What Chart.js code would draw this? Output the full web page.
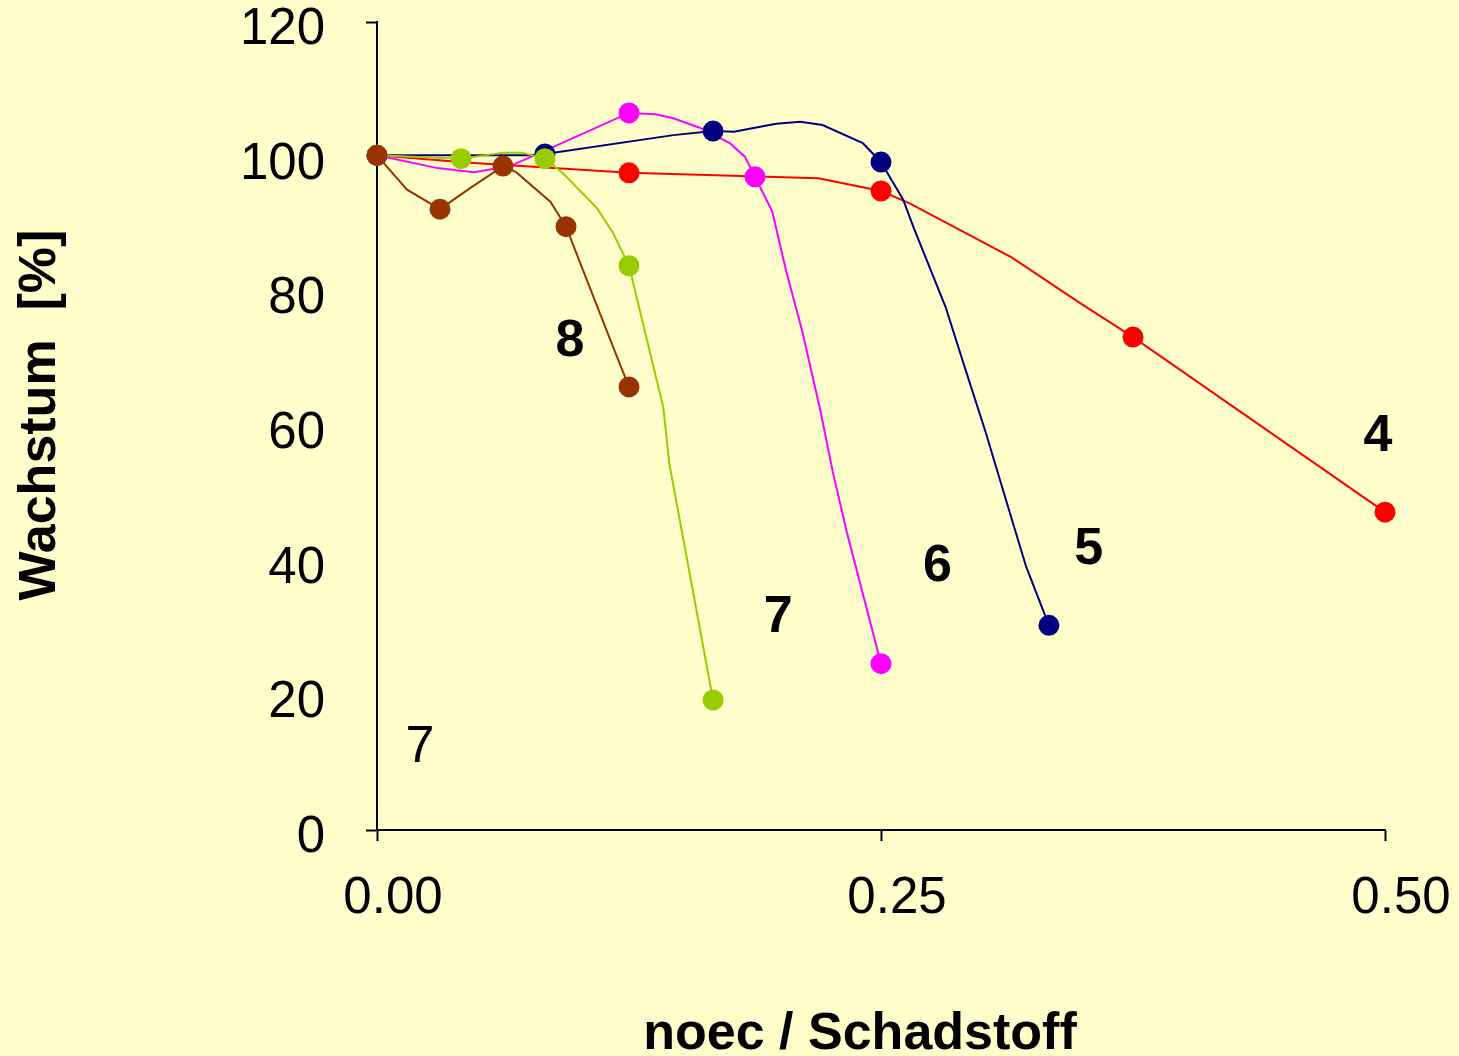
<!DOCTYPE html>
<html>
<head>
<meta charset="utf-8">
<script src="https://cdn.jsdelivr.net/npm/chart.js@4.4.1/dist/chart.umd.min.js"></script>
<style>
  body { margin: 0; background: #ffffcc; }
  canvas { display: block; }
</style>
</head>
<body>
<canvas id="growthChart" width="1459" height="1056"></canvas>
<script>
// noec / Schadstoff (x) against Wachstum in % (y), one curve per test series.
// "dots" holds the x values that carry a measured point marker.
const x4 = [0, 0.046, 0.125, 0.219, 0.25, 0.264, 0.315, 0.348, 0.375, 0.5];
const y4 = [100.2, 99.1, 97.6, 96.8, 94.9, 93.1, 85.0, 78.4, 73.2, 47.2];
const dots4 = [0, 0.125, 0.25, 0.375, 0.5];

const x5 = [0, 0.076, 0.0833, 0.147, 0.1667, 0.177, 0.198, 0.21, 0.221, 0.241, 0.25, 0.261, 0.266, 0.282, 0.292, 0.302, 0.312, 0.322, 0.3333];
const y5 = [100.2, 100.2, 100.4, 103.2, 103.8, 103.7, 104.9, 105.2, 104.7, 102.0, 99.2, 93.6, 89.6, 77.7, 68.3, 59.0, 49.0, 39.1, 30.4];
const dots5 = [0, 0.0833, 0.1667, 0.25, 0.3333];

const x6 = [0, 0.03, 0.048, 0.066, 0.082, 0.125, 0.138, 0.147, 0.16, 0.175, 0.1825, 0.1875, 0.196, 0.203, 0.211, 0.22, 0.226, 0.233, 0.25];
const y6 = [100.2, 98.3, 97.7, 98.6, 100.7, 106.5, 106.3, 105.7, 104.3, 102.0, 100.0, 97.0, 91.9, 83.0, 74.0, 62.2, 53.3, 44.3, 24.7];
const dots6 = [0, 0.125, 0.1875, 0.25];

const x7 = [0, 0.0417, 0.0625, 0.072, 0.0833, 0.092, 0.109, 0.117, 0.125, 0.142, 0.145, 0.1667];
const y7 = [100.2, 99.7, 100.6, 100.6, 99.7, 97.6, 92.4, 88.7, 83.8, 62.8, 54.4, 19.3];
const dots7 = [0, 0.0417, 0.0833, 0.125, 0.1667];

const x8 = [0, 0.0149, 0.03125, 0.046, 0.0625, 0.069, 0.086, 0.09375, 0.108, 0.119, 0.125];
const y8 = [100.2, 95.1, 92.2, 95.3, 98.6, 97.7, 93.3, 89.6, 78.7, 70.3, 65.8];
const dots8 = [0, 0.03125, 0.0625, 0.09375, 0.125];

const xTicks = [0, 0.25, 0.5];
const yTicks = [0, 20, 40, 60, 80, 100, 120];

// curve numbers written next to the lines (value coordinates)
const tags = [
  { text: "8", x: 0.0957, y: 72.5, bold: true },
  { text: "7", x: 0.199, y: 31.5, bold: true },
  { text: "6", x: 0.278, y: 39.1, bold: true },
  { text: "5", x: 0.353, y: 41.7, bold: true },
  { text: "4", x: 0.4965, y: 58.4, bold: true },
  { text: "7", x: 0.0213, y: 12.2, bold: false }
];

const FONT = '"Liberation Sans", Arial, sans-serif';

function series(xs, ys, dots, color) {
  return {
    data: xs.map((x, i) => ({ x: x, y: ys[i] })),
    borderColor: color,
    backgroundColor: color,
    borderWidth: 2,
    tension: 0,
    clip: false,
    pointBorderWidth: 0,
    pointHoverRadius: 0,
    pointRadius: ctx => (ctx.type === "data" && dots.includes(xs[ctx.dataIndex])) ? 10.5 : 0
  };
}

const labelPlugin = {
  id: "labelPlugin",
  afterDatasetsDraw(chart) {
    const ctx = chart.ctx;
    const xs = chart.scales.x;
    const ys = chart.scales.y;
    ctx.save();
    ctx.fillStyle = "#000";
    ctx.textAlign = "center";
    ctx.textBaseline = "middle";
    tags.forEach(t => {
      ctx.font = (t.bold ? "bold " : "") + "52px " + FONT;
      ctx.fillText(t.text, xs.getPixelForValue(t.x), ys.getPixelForValue(t.y));
    });

    ctx.font = "bold 52px " + FONT;
    ctx.textBaseline = "alphabetic";
    ctx.fillText("noec / Schadstoff", 860, 1049);

    ctx.translate(55, 415);
    ctx.rotate(-Math.PI / 2);
    ctx.fillText("Wachstum  [%]", 0, 0);
    ctx.restore();
  }
};

new Chart(document.getElementById("growthChart"), {
  type: "line",
  data: {
    datasets: [
      series(x8, y8, dots8, "#993300"),
      series(x7, y7, dots7, "#99cc00"),
      series(x5, y5, dots5, "#000080"),
      series(x6, y6, dots6, "#ff00ff"),
      series(x4, y4, dots4, "#ff0000")
    ]
  },
  options: {
    responsive: false,
    animation: false,
    layout: { padding: { left: 0, right: 74, top: 22, bottom: 0 } },
    plugins: { legend: { display: false }, tooltip: { enabled: false } },
    scales: {
      x: {
        type: "linear",
        min: 0,
        max: 0.5,
        border: { color: "#000", width: 2 },
        grid: { drawOnChartArea: false, tickLength: 11, tickColor: "#000", tickWidth: 2 },
        afterBuildTicks: scale => { scale.ticks = xTicks.map(v => ({ value: v })); },
        ticks: {
          color: "#000",
          font: { family: FONT, size: 51 },
          padding: 27,
          labelOffset: 16,
          maxRotation: 0,
          autoSkip: false,
          callback: v => Number(v).toFixed(2)
        },
        afterFit: scale => { scale.height = 226; scale.paddingLeft = 0; scale.paddingRight = 0; }
      },
      y: {
        min: 0,
        max: 120,
        border: { color: "#000", width: 2 },
        grid: {
          drawOnChartArea: false,
          tickLength: 11,
          tickWidth: 2,
          tickColor: ctx => (ctx.tick && (ctx.tick.value === 0 || ctx.tick.value === 120)) ? "#000" : "rgba(0,0,0,0)"
        },
        afterBuildTicks: scale => { scale.ticks = yTicks.map(v => ({ value: v })); },
        ticks: {
          color: "#000",
          font: { family: FONT, size: 51 },
          padding: 41,
          labelOffset: 8
        },
        afterFit: scale => { scale.width = 377; scale.paddingTop = 0; scale.paddingBottom = 0; }
      }
    }
  },
  plugins: [labelPlugin]
});
</script>
</body>
</html>
